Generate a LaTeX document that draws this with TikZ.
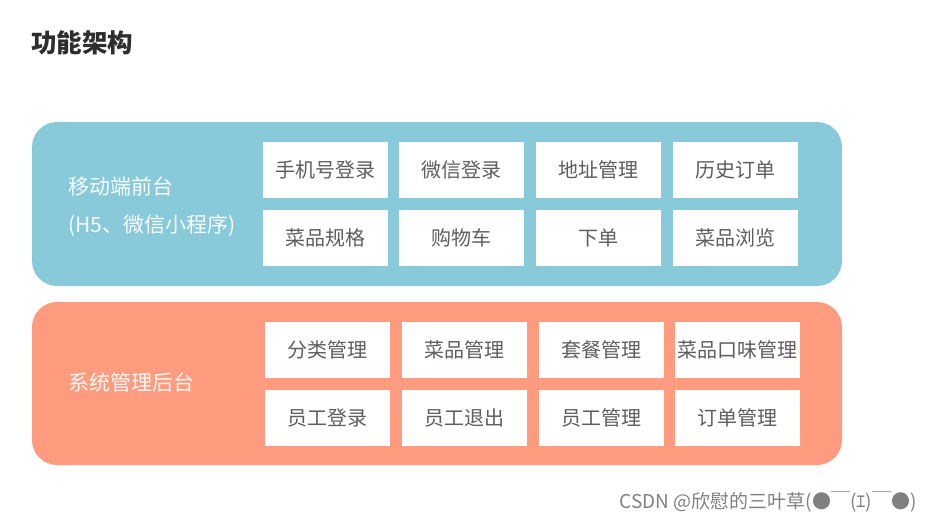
\documentclass[tikz,border=0pt]{standalone}
\usepackage{fontspec}
\setmainfont{Noto Sans CJK SC}
\newfontfamily\cjk{Noto Sans CJK SC}
\usepackage{tikz}
\usetikzlibrary{positioning}

\definecolor{panelblue}{HTML}{88CAD9}
\definecolor{panelorange}{HTML}{FF9B7E}
\definecolor{itemgray}{HTML}{5E5E5E}
\definecolor{titlegray}{HTML}{2E2E2E}

\tikzset{
  panel/.style={rounded corners=25pt, minimum width=810pt, minimum height=164pt, inner sep=0pt},
  item/.style={fill=white, minimum width=125pt, minimum height=56pt, inner sep=0pt,
    text=itemgray, font=\cjk\fontsize{20}{24}\selectfont},
  paneltext/.style={anchor=west, inner sep=0pt, text=white!94!panelblue,
    font=\cjk\fontsize{21}{25}\selectfont},
}

\begin{document}
\begin{tikzpicture}[x=1pt,y=-1pt]
    \useasboundingbox (0,0) rectangle (932,522);

    \node[anchor=west, inner sep=0pt, text=titlegray, font=\cjk\bfseries\fontsize{25.5}{30}\selectfont] (title) at (31,43) {功能架构};

    % mobile front end
    \node[panel, fill=panelblue] (front) at (437,204) {};
    \node[paneltext] (frontname) at (68,187) {移动端前台};
    \node[paneltext] (frontsub) at (68,226) {(H5、微信小程序)};

    \node[item] (phone) at (325,170) {手机号登录};
    \node[item] (wxlogin) at (461.5,170) {微信登录};
    \node[item] (address) at (598.5,170) {地址管理};
    \node[item] (history) at (735.5,170) {历史订单};
    \node[item] (spec) at (325,238) {菜品规格};
    \node[item] (cart) at (461.5,238) {购物车};
    \node[item] (order) at (598.5,238) {下单};
    \node[item] (browse) at (735.5,238) {菜品浏览};

    % admin back end
    \node[panel, fill=panelorange, minimum height=163pt] (back) at (437,383.5) {};
    \node[paneltext, text=white!92!panelorange] (backname) at (68,382) {系统管理后台};

    \node[item] (category) at (327,350) {分类管理};
    \node[item] (dish) at (464,350) {菜品管理};
    \node[item] (setmeal) at (601,350) {套餐管理};
    \node[item] (flavor) at (737.5,350) {菜品口味管理};
    \node[item] (login) at (327,418) {员工登录};
    \node[item] (logout) at (464,418) {员工退出};
    \node[item] (staff) at (601,418) {员工管理};
    \node[item] (orders) at (737.5,418) {订单管理};

    \node[anchor=east, inner sep=0pt, text=black!50, font=\cjk\fontsize{19}{22}\selectfont] (mark) at (917,502) {CSDN @欣慰的三叶草(●￣(ｴ)￣●)};
\end{tikzpicture}
\end{document}
